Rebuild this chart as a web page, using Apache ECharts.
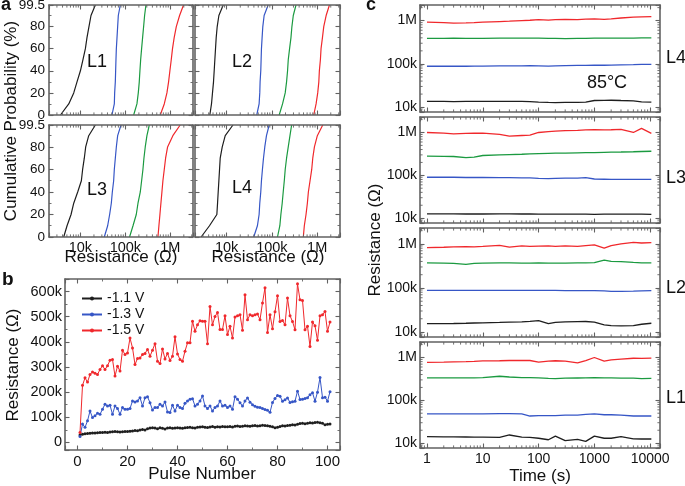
<!DOCTYPE html>
<html><head><meta charset="utf-8">
<script src="https://cdn.jsdelivr.net/npm/echarts@6/dist/echarts.min.js"></script>
<style>html,body{margin:0;padding:0;background:#fff}#c{width:685px;height:486px}</style>
</head><body><div id="c"></div>
<script>
// ---------- Panel a: cumulative probability (%) vs resistance (kOhm) ----------
const probLevels = [0, 10, 20, 30, 40, 50, 60, 70, 80, 90, 99.5];
const aL1Black = [3.6, 5.5, 7.1, 8.4, 10, 11.4, 12.9, 14, 15.5, 17.2, 21.5];
const aL1Blue  = [50.4, 56.8, 57.8, 59.8, 60.8, 61.8, 63, 65.2, 67.4, 69.7, 77.2];
const aL1Green = [153, 181, 194, 204, 211, 219, 230, 242, 255, 268, 287];
const aL1Red   = [598, 734, 841, 916, 980, 1050, 1120, 1220, 1360, 1610, 1970];
const aL2Black = [4.25, 4.63, 4.87, 5.13, 5.31, 5.49, 5.68, 5.88, 6.19, 6.74, 8.41];
const aL2Blue  = [46.3, 52.2, 54, 54.9, 56.8, 57.8, 58.8, 60.8, 63, 67.4, 82.7];
const aL2Green = [145, 172, 197, 211, 222, 230, 246, 264, 277, 297, 341];
const aL2Red   = [841, 948, 1030, 1090, 1120, 1180, 1220, 1310, 1400, 1580, 1870];
const aL3Black = [4.25, 5.04, 6.19, 7.1, 8.7, 10.5, 11.2, 12.2, 13.1, 15.3, 21.5];
const aL3Blue  = [34, 40.4, 44.7, 48.7, 51.3, 54.9, 56.8, 59.8, 63, 67.4, 80];
const aL3Green = [124, 148, 175, 191, 215, 230, 246, 259, 277, 302, 341];
const aL3Red   = [531, 558, 588, 618, 651, 685, 734, 786, 871, 1140, 1660];
const aL4Black = [2.73, 4.18, 6.08, 6.3, 6.51, 6.74, 6.97, 7.21, 8.0, 9.31, 13.8];
const aL4Blue  = [39.7, 47.9, 52.2, 54, 56.8, 58.8, 61.8, 65.2, 69.7, 75.9, 87];
const aL4Green = [133, 150, 158, 169, 178, 188, 197, 211, 230, 251, 273];
const aL4Red   = [495, 521, 568, 608, 640, 697, 759, 800, 871, 1010, 1330];

// ---------- Panel b: resistance (kOhm) vs pulse number ----------
const pulseCount = 101;
const bNames = ['-1.1 V', '-1.3 V', '-1.5 V'];
const bBlack = [30,33,35,36,37,38,38,39,40,40,
  41,40,42,43,44,43,42,43,44,44,
  45,46,48,47,50,52,50,55,57,58,
  57,55,58,56,54,57,58,56,57,58,
  57,56,58,59,60,58,57,60,61,62,
  60,59,61,63,60,62,61,63,62,62,
  63,61,64,65,63,64,66,65,64,66,
  67,65,66,68,67,66,64,62,58,60,
  63,66,65,67,68,70,69,72,75,76,
  74,76,78,77,79,80,78,76,70,72,73];
const bBlue = [24,73,60,86,125,99,106,116,112,132,
  152,145,148,112,145,135,112,139,132,132,
  135,165,161,165,178,145,178,182,158,129,
  139,139,152,145,161,121,119,148,125,148,
  139,135,156,165,172,174,145,152,165,185,
  145,135,145,125,139,145,165,145,148,139,
  145,132,182,172,158,145,165,
  177,160,150,144,140,139,135,131,128,120,
  159,175,187,184,164,170,177,159,162,164,
  204,171,172,175,178,190,198,164,200,258,
  178,180,164,202];
const bRed = [40,227,257,240,270,280,275,270,290,305,
  290,305,327,330,264,303,284,367,350,356,
  415,376,310,334,336,350,354,370,343,367,
  393,323,314,372,332,354,326,343,420,352,
  330,323,363,396,396,482,442,468,484,482,
  482,393,541,468,501,517,449,449,504,429,
  462,415,499,504,508,446,
  587,488,508,504,508,511,488,555,615,437,
  508,452,520,583,481,485,468,574,504,481,
  448,631,567,565,448,462,382,479,464,406,
  504,508,521,442,479];

// ---------- Panel c: resistance (kOhm) vs time (s) at 85 C ----------
const cTimes = [1,2,3,5,7,10,20,30,50,70,100,150,200,300,500,700,1000,1500,2000,3000,5000,7000,10500];
const cL4Red   = [920,900,880,890,900,920,950,970,1000,1020,1050,1030,1060,1070,1050,1080,1100,1070,1100,1150,1200,1220,1240];
const cL4Green = [390,390,392,390,388,390,392,393,395,393,392,390,388,385,388,390,392,395,393,392,395,398,400];
const cL4Blue  = [88,88,88,88,89,89,90,90,90,91,90,89,90,91,92,92,93,93,94,95,96,97,97];
const cL4Black = [13.5,13.5,13.4,13.5,13.5,13.5,13.5,13.6,13.5,13.4,13.0,12.8,12.7,12.8,12.9,13.0,14.2,14.3,14.4,14.2,14.0,13.2,13.0];
const cL3Red   = [1000,970,930,950,960,970,900,820,850,870,1000,1050,1080,1100,1120,1150,1170,1150,1160,1180,1000,1250,950];
const cL3Green = [280,278,275,260,265,290,300,305,310,315,320,325,328,330,335,338,340,345,348,350,355,360,365];
const cL3Blue  = [90,90,90,89,89,89,88,88,87,87,85,84,85,86,86,88,82,81,80,80,80,80,80];
const cL3Black = [12.6,12.6,12.6,12.5,12.5,12.5,12.6,12.6,12.5,12.5,12.4,12.4,12.4,12.4,12.4,12.4,12.3,12.4,12.4,12.4,12.4,12.4,12.3];
const cL2Red   = [820,840,860,870,860,880,930,850,900,880,890,900,880,900,880,920,950,800,920,1000,1080,1050,1070];
const cL2Green = [370,368,360,345,360,368,370,370,368,368,370,368,365,368,370,370,375,430,400,395,380,372,370];
const cL2Blue  = [88,88,88,88,88,88,88,88,88,88,88,88,88,87,87,87,87,86,84,84,85,86,87];
const cL2Black = [15.5,15.5,15.6,15.8,16.0,16.2,16.5,16.8,17.0,17.5,18.2,15.5,16.5,17.0,17.2,17.3,16.8,14.5,14.0,13.8,14.0,15.0,15.8];
const cL1Red   = [770,780,790,800,810,830,840,850,860,850,780,820,840,820,750,850,1000,820,880,920,960,950,970];
const cL1Green = [335,335,335,335,335,340,365,350,340,338,335,325,322,330,332,333,338,335,333,330,328,320,325];
const cL1Blue  = [48,48,48,48,48,48,49,49,48,43,44,44,44,45,45,47,48,46,46,45,43,43,43];
const cL1Black = [14.2,14.0,14.0,13.9,13.8,13.8,13.7,15.5,13.8,13.6,13.0,12.0,14.6,11.5,12.3,11.0,14.6,13.0,13.0,14.2,12.6,12.5,12.5];

// tick label text
const resTickLabels = {4: '10k', 5: '100k', 6: '1M'};
const timeTickLabels = {0: '1', 1: '10', 2: '100', 3: '1000', 4: '10000'};

// ---------- build ----------
const FONT = '"Liberation Sans", Arial, Helvetica, sans-serif';
const AXC = '#626262';
const COL = {black: '#1e1e1e', blue: '#3656c6', green: '#1b9a40', red: '#f0282c'};
const K = 1000;

const grid = [], xAxis = [], yAxis = [], series = [];

function powLabel(map) {
  return function (v) {
    const l = Math.log10(v), r = Math.round(l);
    return (Math.abs(l - r) < 1e-6 && map[r] !== undefined) ? map[r] : '';
  };
}
function axisCfg(spec, showLabel, labelSize, margin) {
  const a = {
    type: spec.type, min: spec.min, max: spec.max,
    axisLine: {show: true, onZero: false, lineStyle: {color: AXC, width: 1.6}},
    axisTick: {show: true, inside: true, length: 4.5, lineStyle: {color: AXC, width: 1.1}},
    minorTick: {show: !!spec.minor, splitNumber: spec.minor || 5, length: 2.5, lineStyle: {color: AXC, width: 0.9}},
    splitLine: {show: false}, minorSplitLine: {show: false},
    axisLabel: {show: showLabel, fontSize: labelSize, fontFamily: FONT, color: '#111', margin: margin,
      formatter: spec.fmt, showMinLabel: true, showMaxLabel: true, hideOverlap: false},
    z: 5
  };
  if (spec.interval) a.interval = spec.interval;
  return a;
}
function addPanel(rect, xs, ys, showX, showY, xSize, ySize, xm, ym) {
  const gi = grid.length;
  grid.push({left: rect[0], top: rect[1], width: rect[2] - rect[0], height: rect[3] - rect[1],
    containLabel: false, outerBoundsMode: 'none'});
  const xi = xAxis.length;
  xAxis.push(Object.assign({gridIndex: gi, position: 'bottom'}, axisCfg(xs, showX, xSize, xm)));
  xAxis.push(Object.assign({gridIndex: gi, position: 'top'}, axisCfg(xs, false, xSize, xm)));
  const yi = yAxis.length;
  yAxis.push(Object.assign({gridIndex: gi, position: 'left'}, axisCfg(ys, showY, ySize, ym)));
  yAxis.push(Object.assign({gridIndex: gi, position: 'right'}, axisCfg(ys, false, ySize, ym)));
  return {xi, yi};
}
// minor ticks of a log axis (2..9 x 10^k), placed through the axis scale
function logMinorValues(minV, maxV) {
  const out = [];
  for (let e = Math.floor(Math.log10(minV)); e <= Math.ceil(Math.log10(maxV)); e++) {
    for (let m = 2; m <= 9; m++) { const v = m * Math.pow(10, e); if (v > minV && v < maxV) out.push(v); }
  }
  return out;
}
function minorTickSeries(ax, dir, spec, otherVal) {
  const vals = logMinorValues(spec.min, spec.max);
  return {type: 'custom', xAxisIndex: ax.xi, yAxisIndex: ax.yi, silent: true, z: 6, clip: false,
    data: vals.map(v => dir === 'x' ? [v, otherVal] : [otherVal, v]),
    renderItem: function (params, api) {
      const cs = params.coordSys;
      const pt = api.coord([api.value(0), api.value(1)]);
      const L = 2.6;
      let ls;
      if (dir === 'x') {
        const x = pt[0];
        ls = [[x, cs.y + cs.height, x, cs.y + cs.height - L], [x, cs.y, x, cs.y + L]];
      } else {
        const y = pt[1];
        ls = [[cs.x, y, cs.x + L, y], [cs.x + cs.width, y, cs.x + cs.width - L, y]];
      }
      return {type: 'group', children: ls.map(l => ({type: 'line',
        shape: {x1: l[0], y1: l[1], x2: l[2], y2: l[3]}, style: {stroke: AXC, lineWidth: 0.9}}))};
    }};
}

// panel a
const aX = {type: 'log', min: 2000, max: 3.2e6, fmt: powLabel(resTickLabels)};
const aY = {type: 'value', min: 0, max: 99.5, interval: 20, minor: 2,
  fmt: v => (Math.abs(v - 99.5) < 1e-6 ? '99.5' : String(Math.round(v)))};
const aPanels = [
  {rect: [49, 5, 193, 115], sx: false, sy: true, curves: [aL1Black, aL1Blue, aL1Green, aL1Red]},
  {rect: [195, 5, 340, 115], sx: false, sy: false, curves: [aL2Black, aL2Blue, aL2Green, aL2Red]},
  {rect: [49, 125, 193, 237], sx: true, sy: true, curves: [aL3Black, aL3Blue, aL3Green, aL3Red]},
  {rect: [195, 125, 340, 237], sx: true, sy: false, curves: [aL4Black, aL4Blue, aL4Green, aL4Red]}
];
const colorOrder = [COL.black, COL.blue, COL.green, COL.red];
aPanels.forEach(p => {
  const ax = addPanel(p.rect, aX, aY, p.sx, p.sy, 14.5, 13.5, 3, 4);
  p.curves.forEach((arr, ci) => {
    series.push({type: 'line', xAxisIndex: ax.xi, yAxisIndex: ax.yi, showSymbol: false,
      lineStyle: {color: colorOrder[ci], width: 1.2}, itemStyle: {color: colorOrder[ci]},
      data: arr.map((r, i) => [r * K, probLevels[i]])});
  });
  series.push(minorTickSeries(ax, 'x', aX, 50));
});

// panel b
const bX = {type: 'value', min: -5, max: 105, minor: 2,
  fmt: v => (v >= 0 && v <= 100 && Math.abs(v % 20) < 1e-9 ? String(v) : '')};
const bY = {type: 'value', min: -30000, max: 650000, minor: 2,
  fmt: v => (v >= 0 && Math.abs(v % 100000) < 1e-6 ? (v === 0 ? '0' : (v / 1000) + 'k') : '')};
const bAx = addPanel([65, 279, 340, 450], bX, bY, true, true, 15, 14.5, 4, 3);
const pulses = Array.from({length: pulseCount}, (_, i) => i + 1);
[[bBlack, COL.black], [bBlue, COL.blue], [bRed, COL.red]].forEach((s, si) => {
  series.push({name: bNames[si], type: 'line', xAxisIndex: bAx.xi, yAxisIndex: bAx.yi,
    symbol: 'circle', symbolSize: 3, showSymbol: true,
    lineStyle: {color: s[1], width: 1}, itemStyle: {color: s[1]},
    data: s[0].map((v, i) => [pulses[i], v * K])});
});

// panel c
const cX = {type: 'log', min: 0.75, max: 15000, fmt: powLabel(timeTickLabels)};
const cY = {type: 'log', min: 7700, max: 2.3e6, fmt: powLabel(resTickLabels)};
const cPanels = [
  {rect: [420, 5, 660, 112], sx: false, curves: [cL4Black, cL4Blue, cL4Green, cL4Red]},
  {rect: [420, 117, 660, 223], sx: false, curves: [cL3Black, cL3Blue, cL3Green, cL3Red]},
  {rect: [420, 228, 660, 337], sx: false, curves: [cL2Black, cL2Blue, cL2Green, cL2Red]},
  {rect: [420, 342, 660, 448], sx: true, curves: [cL1Black, cL1Blue, cL1Green, cL1Red]}
];
cPanels.forEach(p => {
  const ax = addPanel(p.rect, cX, cY, p.sx, true, 14, 14, 4, 3);
  p.curves.forEach((arr, ci) => {
    series.push({type: 'line', xAxisIndex: ax.xi, yAxisIndex: ax.yi, showSymbol: false,
      lineStyle: {color: colorOrder[ci], width: 1.3}, itemStyle: {color: colorOrder[ci]},
      data: arr.map((v, i) => [cTimes[i], v * K])});
  });
  series.push(minorTickSeries(ax, 'x', cX, 1e5));
  series.push(minorTickSeries(ax, 'y', cY, 10));
});

function txt(text, x, y, size, opts) {
  opts = opts || {};
  return {type: 'text', x: x, y: y, rotation: opts.rot || 0, z: 10,
    style: {text: text, fontSize: size, fontFamily: FONT, fontWeight: opts.bold ? 'bold' : 'normal',
      fill: '#111', align: opts.align || 'center', verticalAlign: 'middle'}};
}
const graphic = [
  txt('a', 1, 5, 18, {bold: true, align: 'left'}),
  txt('b', 2, 280, 19, {bold: true, align: 'left'}),
  txt('c', 366, 5, 18, {bold: true, align: 'left'}),
  txt('Cumulative Probability (%)', 11, 121, 17, {rot: Math.PI / 2}),
  txt('Resistance (\u03A9)', 121, 257, 17),
  txt('Resistance (\u03A9)', 268, 257, 17),
  txt('L1', 97, 62, 18), txt('L2', 242, 62, 18), txt('L3', 97, 190, 18), txt('L4', 242, 188, 18),
  txt('Resistance (\u03A9)', 13, 365, 17, {rot: Math.PI / 2}),
  txt('Pulse Number', 202, 474, 17),
  txt('Resistance (\u03A9)', 375, 240, 17, {rot: Math.PI / 2}),
  txt('Time (s)', 540, 476, 17),
  txt('L4', 676, 58, 18), txt('L3', 676, 178, 18), txt('L2', 676, 288, 18), txt('L1', 676, 398, 18),
  txt('85\u00B0C', 607, 83, 18)
];

const chart = echarts.init(document.getElementById('c'), null, {renderer: 'canvas'});
chart.setOption({
  animation: false,
  backgroundColor: '#fff',
  grid: grid, xAxis: xAxis, yAxis: yAxis, series: series, graphic: graphic,
  legend: {data: bNames, orient: 'vertical', left: 76, top: 286, itemWidth: 20, itemHeight: 5,
    itemGap: 1, textStyle: {fontSize: 14, fontFamily: FONT, color: '#111', lineHeight: 15},
    selectedMode: false}
});
</script></body></html>
